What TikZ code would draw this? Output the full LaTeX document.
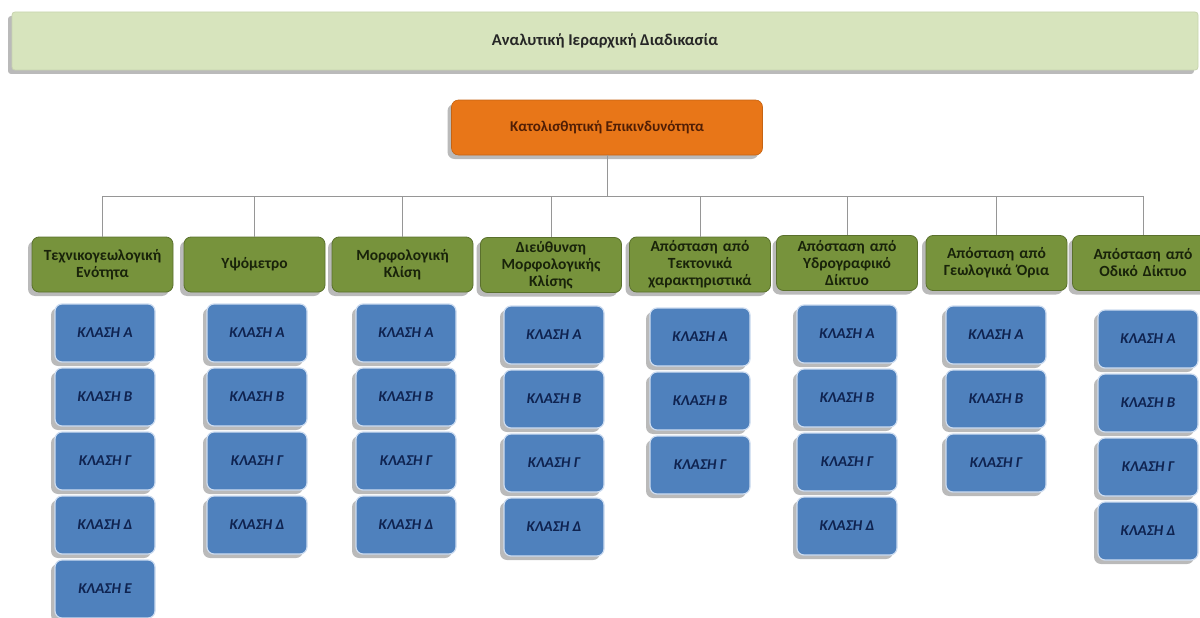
\documentclass[tikz,border=0pt]{standalone}
\usepackage{fontspec}
\setmainfont{Carlito}
\usetikzlibrary{shadows,calc}
\definecolor{titlefill}{RGB}{215,228,189}
\definecolor{titleedge}{RGB}{200,212,175}
\definecolor{orangefill}{RGB}{232,118,24}
\definecolor{orangetext}{RGB}{80,30,5}
\definecolor{greenfill}{RGB}{119,147,60}
\definecolor{greenedge}{RGB}{90,112,45}
\definecolor{greentext}{RGB}{25,35,10}
\definecolor{bluefill}{RGB}{79,129,189}
\definecolor{blueedge}{RGB}{205,220,240}
\definecolor{bluetext}{RGB}{15,35,80}
\definecolor{connc}{RGB}{150,150,150}
\tikzset{
  shad/.style={drop shadow={shadow xshift=-4pt,shadow yshift=-4pt,opacity=0.45,fill=black!60}},
  titlebox/.style={draw=titleedge,fill=titlefill,line width=0.8pt,rounded corners=3pt,
    minimum width=1186pt,minimum height=58pt,shad,
    font=\fontsize{16.5}{19}\selectfont\bfseries,text=black!85},
  topbox/.style={draw=orangefill!85!black,fill=orangefill,rounded corners=7pt,line width=0.6pt,
    minimum width=311pt,minimum height=55pt,shad,
    font=\fontsize{15}{17}\selectfont\bfseries,text=orangetext},
  critbox/.style={draw=greenedge,fill=greenfill,rounded corners=7pt,line width=0.8pt,
    minimum width=141pt,minimum height=55pt,text width=137pt,align=center,inner sep=1pt,shad,
    font=\fontsize{15.5}{17}\selectfont\bfseries,text=greentext},
  clsbox/.style={draw=blueedge,fill=bluefill,rounded corners=7pt,line width=1.2pt,
    minimum width=100pt,minimum height=58pt,shad,
    font=\fontsize{15}{17}\selectfont\bfseries\itshape,text=bluetext},
  conn/.style={draw=connc,line width=0.8pt}
}
\begin{document}
\begin{tikzpicture}[x=1pt,y=-1pt]
\useasboundingbox (0,0) rectangle (1200,618);
\node[titlebox] (title) at (605,41) {Αναλυτική Ιεραρχική Διαδικασία};
\node[topbox] (top) at (607,127.5) {Κατολισθητική Επικινδυνότητα};
\coordinate (bus) at (607,196);
\node[critbox] (g1) at (102.5,264.5) {Τεχνικογεωλογική\\Ενότητα};
\node[critbox] (g2) at (254.5,264.5) {Υψόμετρο};
\node[critbox] (g3) at (402.5,264.5) {Μορφολογική\\Κλίση};
\node[critbox] (g4) at (551,265) {Διεύθυνση\\Μορφολογικής\\Κλίσης};
\node[critbox] (g5) at (700,264.5) {Απόσταση από\\Τεκτονικά\\χαρακτηριστικά};
\node[critbox] (g6) at (847,263) {Απόσταση από\\Υδρογραφικό\\Δίκτυο};
\node[critbox] (g7) at (996.5,263) {Απόσταση από\\Γεωλογικά Όρια};
\node[critbox] (g8) at (1143,263) {Απόσταση από\\Οδικό Δίκτυο};
\foreach \g in {1,...,8}{
  \draw[conn] (top.south) |- (g\g.north |- bus) -- (g\g.north);
}
\foreach \x/\t/\n/\c in {105/304/5/1,257/304/4/2,406/304/4/3,554/306/4/4,700/308/3/5,847/305/4/6,996/306/3/7,1148/310/4/8}{
  \foreach \r/\l in {1/Α,2/Β,3/Γ,4/Δ,5/Ε}{
    \ifnum\r>\n\else
      \node[clsbox] (c\c r\r) at (\x,{\t+(\r-1)*64+29}) {ΚΛΑΣΗ \l};
    \fi
  }
}
\end{tikzpicture}
\end{document}
